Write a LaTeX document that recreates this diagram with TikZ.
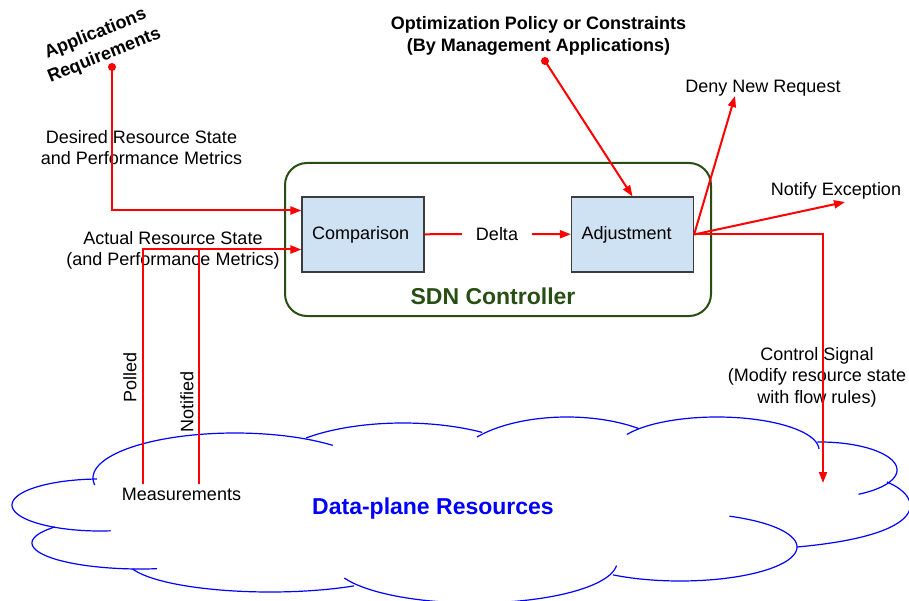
\documentclass[tikz,border=0pt]{standalone}
\usepackage{fontspec}
\setmainfont{Liberation Sans}
\usetikzlibrary{arrows.meta,calc}
\definecolor{redc}{RGB}{255,0,0}
\definecolor{boxfill}{RGB}{207,226,243}
\definecolor{boxdraw}{RGB}{60,60,60}
\definecolor{ctrlgreen}{RGB}{39,78,19}
\definecolor{dpblue}{RGB}{0,0,255}
\newcommand\cloudarc[6]{\draw[cloudline] plot[domain=#5:#6, samples=70] ({#1+#3*cos(\x)},{#2+#4*sin(\x)});}
\begin{document}
\begin{tikzpicture}[x=1pt,y=-1pt,
  redline/.style={draw=redc, line width=2pt},
  redarrow/.style={redline, -{Triangle[length=11pt,width=8pt]}},
  lbl/.style={font=\fontsize{18}{21.5}\selectfont, align=center, inner sep=0pt},
  blbl/.style={font=\bfseries\fontsize{18}{21.5}\selectfont, align=center, inner sep=0pt},
  biglbl/.style={font=\bfseries\fontsize{23}{27}\selectfont, inner sep=0pt},
  procbox/.style={draw=boxdraw, line width=1.2pt, fill=boxfill, minimum height=75pt,
    text width=102pt, inner xsep=10pt, align=left, font=\fontsize{18}{21.5}\selectfont},
  reddot/.style={circle, fill=redc, inner sep=0pt, minimum size=8pt},
  cloudline/.style={draw=dpblue, line width=1.2pt}]
\path[use as bounding box] (0,0) rectangle (909,601);
\clip (0,0) rectangle (909,601);
% cloud
\cloudarc{235}{478}{142}{45}{171}{313.5}
\cloudarc{403}{475}{138}{52}{225.4}{305}
\cloudarc{567}{470}{115}{53}{218.5}{308.7}
\cloudarc{717}{450}{102}{33}{208}{358}
\cloudarc{820}{470}{77}{28}{268}{420}
\draw[cloudline] (887,482) .. controls (925,498) and (930,535) .. (797,547);
\cloudarc{680}{547}{117}{34}{295}{485}
\cloudarc{475}{562}{142}{41}{5}{157}
\cloudarc{270}{560}{143}{32}{54}{164}
\cloudarc{140}{543}{108}{26}{81}{218}
\cloudarc{100}{505}{88}{26}{83}{268}
% controller
\node[draw=ctrlgreen, line width=2pt, rounded corners=22pt, minimum width=426pt, minimum height=153pt] (ctrl) at (498,239.5) {};
\node[biglbl, text=ctrlgreen] (ctrllbl) at (493,296) {SDN Controller};
\node[procbox] (comp) at (363,234.5) {Comparison};
\node[procbox] (adj) at (632.5,234.5) {Adjustment};
\node[lbl, inner xsep=14pt] (delta) at (497,234) {Delta};
% labels
\node[blbl, rotate=22, font=\bfseries\fontsize{18}{23.5}\selectfont] (appreq) at (100,45) {Applications\\Requirements};
\node[lbl] (desired) at (141.5,147.5) {Desired Resource State\\and Performance Metrics};
\node[lbl] (actual) at (173,250.5) {Actual Resource State\\(and Performance Metrics)};
\node[blbl] (policy) at (538.5,36) {Optimization Policy or Constraints\\(By Management Applications)};
\node[lbl] (deny) at (763,88) {Deny New Request};
\node[lbl] (notif) at (836,190.5) {Notify Exception};
\node[lbl] (ctlsig) at (817,377) {Control Signal\\(Modify resource state\\with flow rules)};
\node[lbl, rotate=90] (polled) at (130,377) {Polled};
\node[lbl, rotate=90] (notified) at (187,402) {Notified};
\node[lbl] (meas) at (181.5,494.5) {Measurements};
\node[biglbl, text=dpblue] (dpr) at (433,509) {Data-plane Resources};
% coordinates
\coordinate (desin) at ([yshift=24pt]comp.west);
\coordinate (actin) at ([yshift=-15pt]comp.west);
\coordinate (pollbot) at (143,484);
\coordinate (notbot) at (199,484);
\coordinate (denytip) at (735,96);
\coordinate (notiftip) at (845,202);
\coordinate (ctltip) at (823,483);
% connectors
\node[reddot] (appdot) at (112,67) {};
\node[reddot] (poldot) at (545,61) {};
\draw[redarrow] (appdot.center) |- (desin);
\draw[redarrow] (pollbot) |- (actin);
\draw[redline] (notbot) -- (notbot |- actin);
\draw[redline] (comp) -- (delta);
\draw[redarrow] (delta) -- (adj);
\draw[redarrow] (poldot.center) -- (adj.north);
\draw[redarrow] (adj.east) -- (denytip);
\draw[redarrow] (adj.east) -- (notiftip);
\draw[redarrow] (adj.east) -| (ctltip);
\end{tikzpicture}
\end{document}
